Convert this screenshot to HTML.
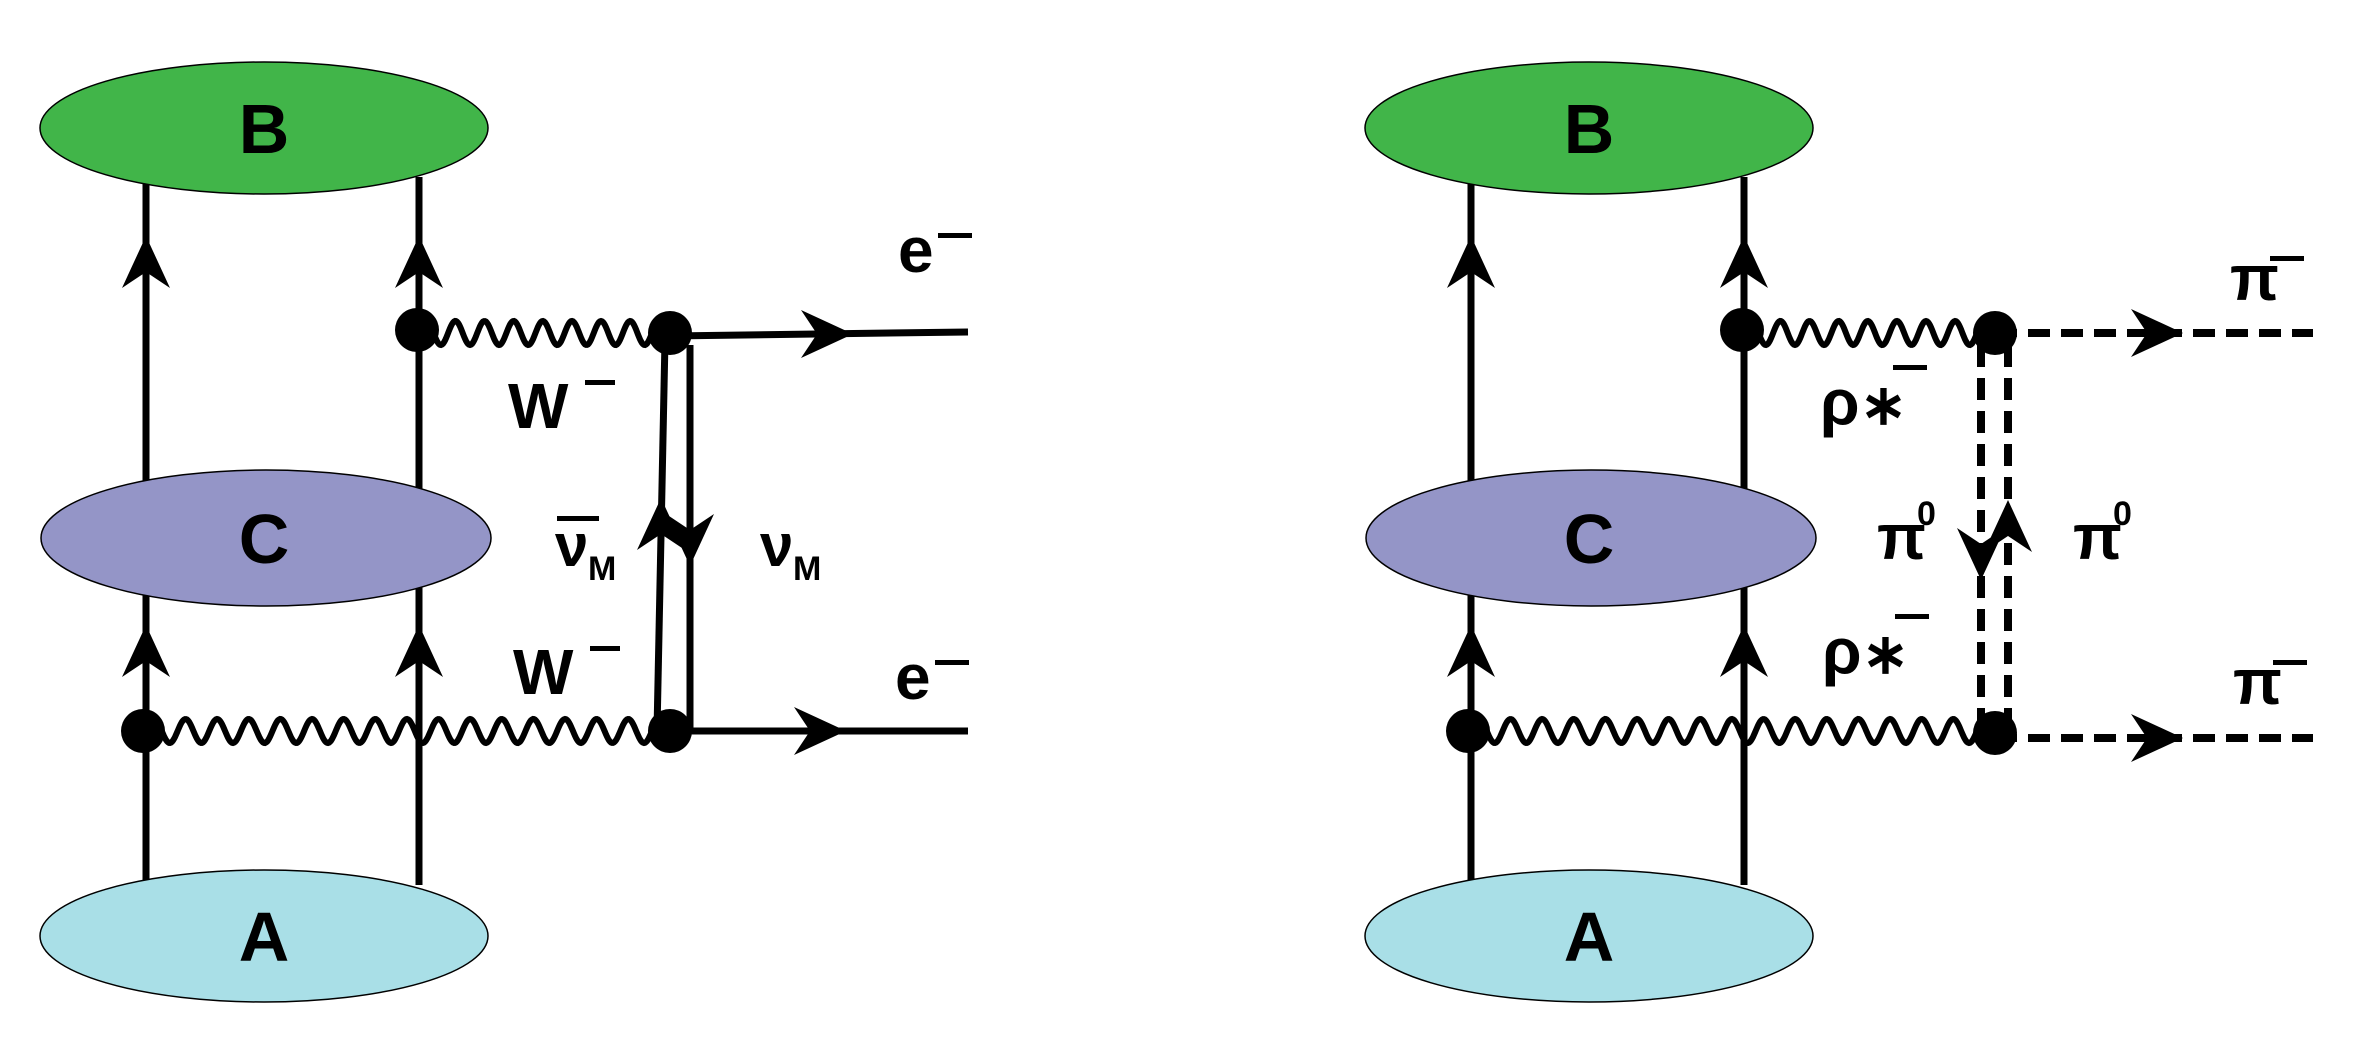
<!DOCTYPE html>
<html><head><meta charset="utf-8"><style>
html,body{margin:0;padding:0;background:#fff;width:2355px;height:1055px;overflow:hidden}
text{font-family:"Liberation Sans",Arial,sans-serif;font-weight:bold;fill:#000}
</style></head><body>
<svg id="s" width="2355" height="1055" viewBox="0 0 2355 1055" xmlns="http://www.w3.org/2000/svg">
<defs>
<path id="ar" d="M0,0 L-52,-24 L-36,0 L-52,24 Z" fill="#000"/>
</defs>
<g id="L"></g>
<g id="R" transform="translate(1325,0)"></g>
</svg>
<script>
const NS="http://www.w3.org/2000/svg";
function el(p,t,a,txt){const e=document.createElementNS(NS,t);for(const k in a)e.setAttribute(k,a[k]);if(txt!==undefined)e.textContent=txt;p.appendChild(e);return e;}
function wave(p,x1,x2,y){const n=Math.round((x2-x1)/31);const w=(x2-x1)/n;
 let d=`M${x1},${y}`;for(let x=x1;x<=x2;x+=1){d+=` L${x},${(y-12*Math.sin((x-x1)/w*2*Math.PI)).toFixed(1)}`;}
 el(p,'path',{d:d,fill:'none',stroke:'#000','stroke-width':6});}
function arrow(p,x,y,ang){el(p,'use',{href:'#ar',transform:`translate(${x},${y}) rotate(${ang})`});}
function common(g){
 el(g,'line',{x1:146,y1:177,x2:146,y2:880,stroke:'#000','stroke-width':7});
 el(g,'line',{x1:419,y1:177,x2:419,y2:885,stroke:'#000','stroke-width':7});
 arrow(g,146,236,-90);arrow(g,419,236,-90);
 arrow(g,146,625,-90);arrow(g,419,625,-90);
 el(g,'ellipse',{cx:264,cy:128,rx:224,ry:66,fill:'#41b549',stroke:'#000','stroke-width':1.5});
 el(g,'ellipse',{cx:266,cy:538,rx:225,ry:68,fill:'#9495c7',stroke:'#000','stroke-width':1.5});
 el(g,'ellipse',{cx:264,cy:936,rx:224,ry:66,fill:'#a9dfe7',stroke:'#000','stroke-width':1.5});
 el(g,'text',{x:264,y:153,'font-size':70,'text-anchor':'middle'},'B');
 el(g,'text',{x:264,y:563,'font-size':70,'text-anchor':'middle'},'C');
 el(g,'text',{x:264,y:961,'font-size':70,'text-anchor':'middle'},'A');
 wave(g,419,652,333);
 wave(g,146,652,731);
 el(g,'circle',{cx:417,cy:330,r:22,fill:'#000'});
 el(g,'circle',{cx:143,cy:731,r:22,fill:'#000'});
}
const L=document.getElementById('L'),R=document.getElementById('R');
common(L);common(R);
// left panel
el(L,'line',{x1:665,y1:340,x2:657,y2:731,stroke:'#000','stroke-width':7});
el(L,'line',{x1:690,y1:345,x2:690,y2:731,stroke:'#000','stroke-width':7});
el(L,'line',{x1:670,y1:336,x2:968,y2:332,stroke:'#000','stroke-width':7});
el(L,'line',{x1:670,y1:731,x2:968,y2:731,stroke:'#000','stroke-width':7});
arrow(L,853,334,0);arrow(L,846,731,0);
arrow(L,661,498,-90);arrow(L,690,566,90);
el(L,'circle',{cx:670,cy:333,r:22,fill:'#000'});
el(L,'circle',{cx:670,cy:731,r:22,fill:'#000'});
el(L,'text',{x:508,y:428,'font-size':64},'W');
el(L,'rect',{x:585,y:380,width:30,height:5,fill:'#000'});
el(L,'text',{x:513,y:694,'font-size':64},'W');
el(L,'rect',{x:590,y:646,width:30,height:5,fill:'#000'});
el(L,'text',{x:555,y:566,'font-size':60},'ν');
el(L,'rect',{x:557,y:516,width:42,height:5,fill:'#000'});
el(L,'text',{x:588,y:580,'font-size':34},'M');
el(L,'text',{x:760,y:566,'font-size':60},'ν');
el(L,'text',{x:793,y:580,'font-size':34},'M');
el(L,'text',{x:898,y:272,'font-size':64},'e');
el(L,'rect',{x:938,y:233,width:34,height:5,fill:'#000'});
el(L,'text',{x:895,y:699,'font-size':64},'e');
el(L,'rect',{x:935,y:660,width:34,height:5,fill:'#000'});
// right panel
const dash={stroke:'#000','stroke-width':8,'stroke-dasharray':'22 11'};
el(R,'line',Object.assign({x1:656,y1:345,x2:656,y2:731},dash));
el(R,'line',Object.assign({x1:683,y1:345,x2:683,y2:731},dash));
el(R,'line',Object.assign({x1:670,y1:333,x2:988,y2:333},dash));
el(R,'line',Object.assign({x1:670,y1:738,x2:988,y2:738},dash));
arrow(R,858,333,0);arrow(R,858,738,0);
arrow(R,656,580,90);arrow(R,683,500,-90);
el(R,'circle',{cx:670,cy:333,r:22,fill:'#000'});
el(R,'circle',{cx:670,cy:733,r:22,fill:'#000'});
el(R,'text',{x:495,y:424,'font-size':64,'font-weight':'normal'},'ρ');
el(R,'text',{x:535,y:424,'font-size':56,'font-weight':'normal'},'∗');
el(R,'rect',{x:568,y:365,width:34,height:5,fill:'#000'});
el(R,'text',{x:497,y:673,'font-size':64,'font-weight':'normal'},'ρ');
el(R,'text',{x:537,y:673,'font-size':56,'font-weight':'normal'},'∗');
el(R,'rect',{x:570,y:614,width:34,height:5,fill:'#000'});
el(R,'text',{x:552,y:559,'font-size':64},'π');
el(R,'text',{x:592,y:525,'font-size':34},'0');
el(R,'text',{x:748,y:559,'font-size':64},'π');
el(R,'text',{x:788,y:525,'font-size':34},'0');
el(R,'text',{x:905,y:300,'font-size':64},'π');
el(R,'rect',{x:945,y:256,width:34,height:5,fill:'#000'});
el(R,'text',{x:908,y:704,'font-size':64},'π');
el(R,'rect',{x:948,y:660,width:34,height:5,fill:'#000'});
</script>
</body></html>
